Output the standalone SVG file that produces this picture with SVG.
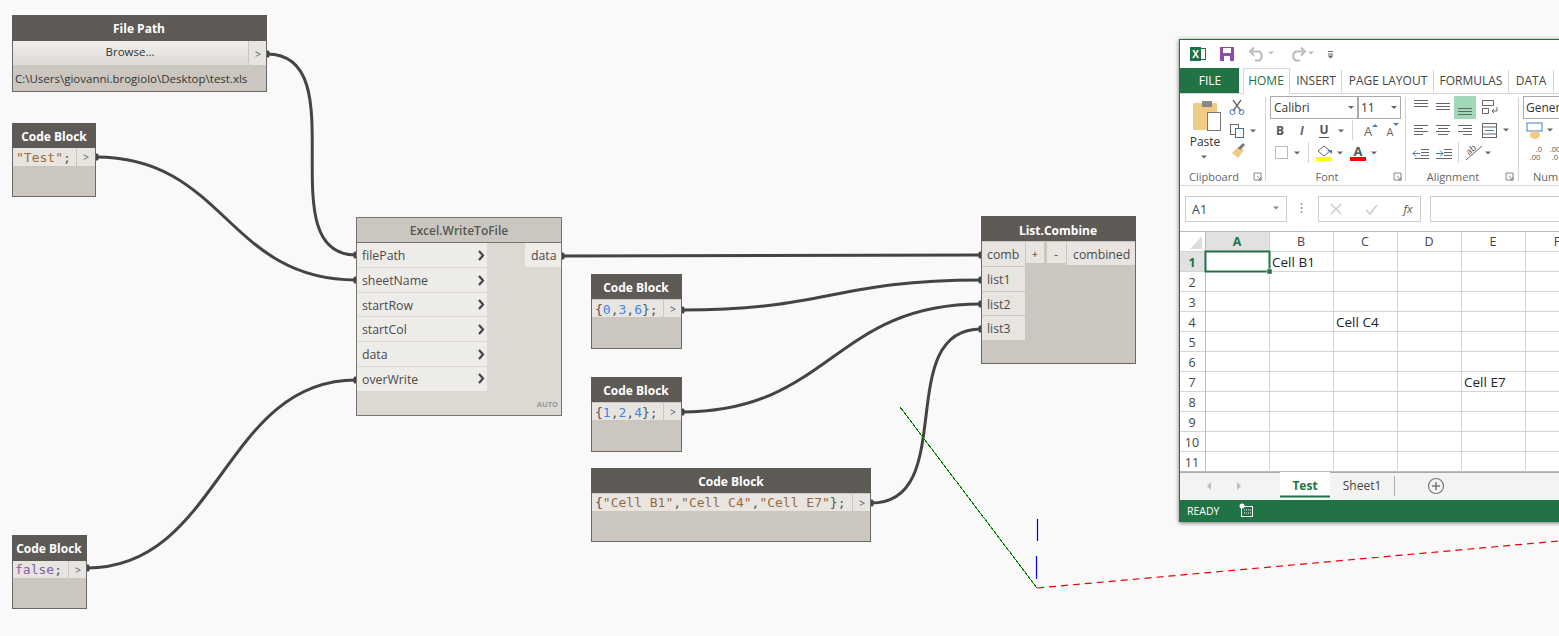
<svg xmlns="http://www.w3.org/2000/svg" width="1559" height="636" viewBox="0 0 1559 636">
<style>
text{font-family:"Open Sans","Noto Sans","DejaVu Sans",sans-serif}
.hdr{fill:#5e5b57}.nb{fill:#cbc7c0;stroke:#6b6963;stroke-width:1}
.nt{fill:#fff;font-size:12px;font-weight:700;text-anchor:middle}
.row{fill:#e8e5e1}.p{fill:#4a4a4a;font-size:12.300px}
.gt{fill:#4d5a66;font-size:10.500px;text-anchor:middle}
.code{font-family:"DejaVu Sans Mono","Liberation Mono",monospace;font-size:13px;fill:#555}
.str{fill:#9a6a3c}.num{fill:#3f86e8}.kw{fill:#8a5aa8}
.wire{fill:none;stroke:#444;stroke-width:3;marker-start:url(#pin);marker-end:url(#pin)}
.chev{fill:none;stroke:#444;stroke-width:2.200}
.x{font-size:12px;fill:#333}.cell{font-size:13.500px;fill:#222}.xh{font-size:12.500px;fill:#444;text-anchor:middle}
.tab{font-size:12px;fill:#444;text-anchor:middle}
.lbl{font-size:11px;fill:#666;text-anchor:middle}
.grid{stroke:#d4d4d4;stroke-width:1;fill:none}
.ic{stroke:#666;stroke-width:1;fill:none}
.sep{stroke:#d4d4d4;stroke-width:1}
.dd{fill:#666}
</style>
<defs>
<marker id="pin" markerUnits="userSpaceOnUse" markerWidth="8" markerHeight="10" refX="4" refY="5" orient="auto"><rect x="1.500" y="1.500" width="5" height="7" rx="1.500" fill="#444"/></marker>
<linearGradient id="btn" x1="0" y1="0" x2="0" y2="1"><stop offset="0" stop-color="#f0eeeb"/><stop offset="1" stop-color="#dedbd6"/></linearGradient>
<filter id="sh" x="-5%" y="-5%" width="110%" height="110%"><feDropShadow dx="-1" dy="1" stdDeviation="2" flood-color="#000" flood-opacity=".55"/></filter>
<path id="drop" d="M-3,-1.500h6l-3,3z"/>
<path id="launch" d="M-4,-4h7v7h-7zM-1,-1l4,4M0,3h3v-3" fill="none" stroke="#888"/>
</defs>
<rect width="1559" height="636" fill="#f9f9f9"/>

<g id="connectors">
<path class="wire" d="M267,54C358,54 267,255 356,255"/>
<path class="wire" d="M96,157C225,157 227,280 356,280"/>
<path class="wire" d="M87,568C220,568 223,380 356,380"/>
<path class="wire" d="M562,256C700,256 840,255 981,255"/>
<path class="wire" d="M682,310C830,310 833,280 981,280"/>
<path class="wire" d="M682,412C830,412 833,304 981,304"/>
<path class="wire" d="M871,503C960,503 892,329 981,329"/>
</g>

<g id="filepath">
<rect class="nb" x="12.500" y="15.500" width="254" height="76"/>
<rect class="hdr" x="12" y="15" width="255" height="26"/>
<text class="nt" x="139" y="33">File Path</text>
<rect x="13" y="41" width="235" height="24" fill="url(#btn)"/>
<text x="130" y="56" font-size="11.500px" fill="#333" text-anchor="middle">Browse...</text>
<rect class="row" x="249" y="41" width="17" height="24"/>
<text class="gt" x="258" y="58">&gt;</text>
<text x="15" y="83" font-size="11.500px" fill="#333">C:\Users\giovanni.brogiolo\Desktop\test.xls</text>
</g>

<g id="code-test">
<rect class="nb" x="12.500" y="123.500" width="83" height="73"/>
<rect class="hdr" x="12" y="123" width="84" height="25"/>
<text class="nt" x="54" y="141">Code Block</text>
<rect class="row" x="13" y="148" width="63" height="18"/><rect class="row" x="77" y="148" width="18" height="18"/>
<text class="code" x="16" y="162"><tspan class="str">"Test"</tspan>;</text>
<text class="gt" x="86" y="161">&gt;</text>
</g>

<g id="code-false">
<rect class="nb" x="12.500" y="535.500" width="74" height="73"/>
<rect class="hdr" x="12" y="535" width="75" height="26"/>
<text class="nt" x="49" y="553">Code Block</text>
<rect class="row" x="13" y="561" width="55" height="17"/><rect class="row" x="69" y="561" width="17" height="17"/>
<text class="code" x="15" y="574"><tspan class="kw">false</tspan>;</text>
<text class="gt" x="78" y="574">&gt;</text>
</g>

<g id="excel-write">
<rect x="356.500" y="217.500" width="205" height="198" fill="#dcd9d3" stroke="#77746e"/>
<rect x="357" y="218" width="204" height="24" fill="#cbc7c0"/>
<path d="M357,242.500H561" stroke="#77746e"/>
<text x="459" y="235" font-size="12px" font-weight="600" fill="#555" text-anchor="middle">Excel.WriteToFile</text>
<g fill="#eeece8"><rect x="357" y="243" width="130" height="24"/><rect x="357" y="268" width="130" height="24"/><rect x="357" y="293" width="130" height="23"/><rect x="357" y="317" width="130" height="24"/><rect x="357" y="342" width="130" height="24"/><rect x="357" y="367" width="130" height="24"/><rect x="525" y="243" width="36" height="24"/></g>
<text class="p" x="362" y="260">filePath</text><text class="p" x="362" y="285">sheetName</text><text class="p" x="362" y="310">startRow</text><text class="p" x="362" y="334">startCol</text><text class="p" x="362" y="359">data</text><text class="p" x="362" y="384">overWrite</text>
<text class="p" x="531" y="260">data</text>
<g class="chev"><path d="M479,251l4,4.500l-4,4.500"/><path d="M479,276l4,4.500l-4,4.500"/><path d="M479,300l4,4.500l-4,4.500"/><path d="M479,325l4,4.500l-4,4.500"/><path d="M479,350l4,4.500l-4,4.500"/><path d="M479,374l4,4.500l-4,4.500"/></g>
<text x="558" y="407" font-size="7.500px" font-weight="700" fill="#999" text-anchor="end">AUTO</text>
</g>

<g id="list-combine">
<rect class="nb" x="981.500" y="216.500" width="154" height="147"/>
<rect class="hdr" x="981" y="216" width="155" height="25"/>
<text class="nt" x="1058" y="235">List.Combine</text>
<g class="row"><rect x="982" y="242" width="43" height="24"/><rect x="982" y="267" width="43" height="24"/><rect x="982" y="292" width="43" height="23"/><rect x="982" y="316" width="43" height="24"/><rect x="1026" y="242" width="18" height="21"/><rect x="1047" y="242" width="19" height="21"/><rect x="1067" y="242" width="68" height="23"/></g>
<text class="p" x="987" y="259">comb</text><text class="p" x="987" y="284">list1</text><text class="p" x="987" y="309">list2</text><text class="p" x="987" y="333">list3</text>
<text class="p" x="1073" y="259">combined</text>
<text x="1035" y="258" font-size="11px" fill="#333" text-anchor="middle">+</text><text x="1056" y="258" font-size="11px" fill="#333" text-anchor="middle">-</text>
</g>

<g id="code-036">
<rect class="nb" x="591.500" y="274.500" width="90" height="74"/>
<rect class="hdr" x="591" y="274" width="91" height="25"/>
<text class="nt" x="636" y="292">Code Block</text>
<rect class="row" x="592" y="300" width="71" height="17"/><rect class="row" x="664" y="300" width="17" height="17"/>
<text class="code" x="595" y="314">{<tspan class="num">0</tspan>,<tspan class="num">3</tspan>,<tspan class="num">6</tspan>};</text>
<text class="gt" x="673" y="313">&gt;</text>
</g>

<g id="code-124">
<rect class="nb" x="591.500" y="377.500" width="90" height="74"/>
<rect class="hdr" x="591" y="377" width="91" height="25"/>
<text class="nt" x="636" y="395">Code Block</text>
<rect class="row" x="592" y="403" width="71" height="17"/><rect class="row" x="664" y="403" width="17" height="17"/>
<text class="code" x="595" y="417">{<tspan class="num">1</tspan>,<tspan class="num">2</tspan>,<tspan class="num">4</tspan>};</text>
<text class="gt" x="673" y="416">&gt;</text>
</g>

<g id="code-cells">
<rect class="nb" x="591.500" y="468.500" width="279" height="73"/>
<rect class="hdr" x="591" y="468" width="280" height="25"/>
<text class="nt" x="731" y="486">Code Block</text>
<rect class="row" x="592" y="494" width="260" height="17"/><rect class="row" x="853" y="494" width="17" height="17"/>
<text class="code" x="595" y="507">{<tspan class="str">"Cell B1"</tspan>,<tspan class="str">"Cell C4"</tspan>,<tspan class="str">"Cell E7"</tspan>};</text>
<text class="gt" x="862" y="507">&gt;</text>
</g>

<g id="axes">
<path d="M900,407L1037,588" stroke="#008000" stroke-width="1" fill="none" shape-rendering="crispEdges"/>
<path d="M1037.500,519V541M1036.500,556V579" stroke="#0000e0" stroke-width="1.200" fill="none"/>
<path d="M1037,588L1559,541" stroke="#e80000" stroke-width="1.200" fill="none" stroke-dasharray="7 5"/>
</g>

<g id="excel-window">
<rect x="1180" y="39" width="385" height="483" fill="#fff" filter="url(#sh)"/>
<path d="M1179,39.500H1559" stroke="#217346"/><path d="M1179.500,39V522" stroke="#217346"/>
<!-- quick access -->
<rect x="1190" y="47" width="11" height="14" fill="#1e7145"/><rect x="1199.500" y="48.500" width="6" height="11" fill="none" stroke="#1e7145"/>
<text x="1195.500" y="58" font-size="10px" font-weight="700" fill="#fff" text-anchor="middle">X</text>
<rect x="1220" y="47" width="14" height="14" fill="#8a4ea8"/><rect x="1223" y="48" width="8" height="5" fill="#fff"/><rect x="1224" y="56" width="6" height="5" fill="#fff"/>
<path d="M1252,51.500H1259a5,5 0 0 1 0,9H1255M1254,47.500l-4,4l4,4" fill="none" stroke="#bbb" stroke-width="2"/>
<use href="#drop" x="1271" y="53" fill="#bbb"/>
<path d="M1303,51.500H1296a5,5 0 0 0 0,9H1300M1301,47.500l4,4l-4,4" fill="none" stroke="#bbb" stroke-width="2"/>
<use href="#drop" x="1311" y="53" fill="#bbb"/>
<path d="M1328,51.500h5M1328,54h5" stroke="#666"/><use href="#drop" x="1330.500" y="57" class="dd"/>
<!-- tabs -->
<rect x="1180" y="68" width="59" height="25" fill="#217346"/>
<text x="1210" y="85" font-size="12px" fill="#fff" text-anchor="middle">FILE</text>
<path d="M1180,93.500H1243.500V68.500H1289.500V93.500H1559" fill="none" stroke="#d4d4d4"/>
<text class="tab" x="1266" y="85" style="fill:#217346">HOME</text>
<text class="tab" x="1316" y="85">INSERT</text><text class="tab" x="1388" y="85">PAGE LAYOUT</text><text class="tab" x="1471" y="85">FORMULAS</text><text class="tab" x="1531" y="85">DATA</text>
<path class="sep" d="M1341.500,70V92M1433.500,70V92M1508.500,70V92M1553.500,70V92"/>
<!-- ribbon separators -->
<path class="sep" d="M1265.500,97V181M1405.500,97V181M1518.500,97V181M1308.500,142V163M1458.500,142V163M1352.500,120V140"/>
<path d="M1180,185.500H1559" stroke="#d4d4d4"/>
<!-- clipboard -->
<rect x="1193" y="103" width="24" height="27" rx="1" fill="#f0cb83"/><rect x="1202" y="101" width="10" height="6" fill="#888"/>
<rect x="1207.500" y="112.500" width="13" height="18" fill="#fff" stroke="#777"/>
<text class="x" x="1205" y="146" text-anchor="middle">Paste</text><use href="#drop" x="1204" y="157" class="dd"/>
<path d="M1233,100L1241,111M1241,100L1233,111" stroke="#666" stroke-width="1.300"/><circle cx="1232.500" cy="112" r="2.500" fill="none" stroke="#3f7fbf"/><circle cx="1241.500" cy="112" r="2.500" fill="none" stroke="#3f7fbf"/>
<rect x="1230.500" y="124.500" width="8" height="10" fill="#fff" stroke="#666"/><rect x="1235.500" y="128.500" width="8" height="9" fill="#fff" stroke="#3f6f9f"/>
<use href="#drop" x="1253" y="131" class="dd"/>
<path d="M1232,153L1238,158L1244,150L1238,147Z" fill="#f0c88a"/><path d="M1239,149l5,-5" stroke="#777" stroke-width="3"/>
<text class="lbl" x="1214" y="181">Clipboard</text><use href="#launch" x="1258" y="177"/>
<!-- font -->
<rect x="1270.500" y="96.500" width="87" height="22" fill="#fff" stroke="#aaa"/><text class="x" x="1274" y="112">Calibri</text><use href="#drop" x="1351" y="107.500" class="dd"/>
<rect x="1358.500" y="96.500" width="42" height="22" fill="#fff" stroke="#aaa"/><text class="x" x="1361" y="112">11</text><use href="#drop" x="1394" y="107.500" class="dd"/>
<text x="1280" y="135" font-size="12px" font-weight="700" fill="#555" text-anchor="middle">B</text>
<text x="1302" y="135" font-size="12px" font-weight="700" font-style="italic" fill="#666" text-anchor="middle">I</text>
<text x="1324" y="134" font-size="12px" font-weight="700" fill="#555" text-anchor="middle">U</text><path d="M1319,137.500H1329" stroke="#555"/>
<use href="#drop" x="1341" y="131" class="dd"/>
<text x="1368" y="136" font-size="13px" fill="#666" text-anchor="middle">A</text><path d="M1372,127l3,-3l3,3z" fill="#3f7fbf"/>
<text x="1390" y="136" font-size="11px" fill="#666" text-anchor="middle">A</text><path d="M1393,123h6l-3,3z" fill="#3f7fbf"/>
<rect x="1275.500" y="146.500" width="12" height="12" fill="none" stroke="#777" stroke-dasharray="1 1"/><use href="#drop" x="1297" y="153" class="dd"/>
<path d="M1318,151l6,-5l6,5l-6,5z" fill="#fff" stroke="#666"/><path d="M1327,150h5v4z" fill="#3f7fbf"/><rect x="1316" y="157" width="16" height="4" fill="#ff0"/><use href="#drop" x="1340" y="153" class="dd"/>
<text x="1358" y="156" font-size="13px" fill="#555" text-anchor="middle" font-weight="700">A</text><rect x="1350" y="157" width="16" height="4" fill="#f00"/><use href="#drop" x="1374" y="153" class="dd"/>
<text class="lbl" x="1327" y="181">Font</text><use href="#launch" x="1398" y="177"/>
<!-- alignment -->
<rect x="1454" y="96" width="22" height="23" fill="#a0d8b8"/>
<path class="ic" d="M1414,100.500h14M1414,103.500h14M1414,106.500h14M1436,103.500h14M1436,106.500h14M1436,109.500h14M1458,108.500h14M1458,111.500h14M1458,114.500h14M1414,125.500h14M1414,128.500h9M1414,131.500h14M1414,134.500h9M1436,125.500h14M1438,128.500h10M1436,131.500h14M1438,134.500h10M1458,125.500h14M1463,128.500h9M1458,131.500h14M1463,134.500h9"/>
<path class="ic" d="M1482.500,100.500h11v5h-11zM1482.500,108.500h6v5h-6zM1492,111h5v-4M1492,111l2,-2M1492,111l2,2"/>
<rect x="1482.500" y="123.500" width="14" height="14" fill="none" stroke="#666"/><path d="M1485,130.500h9" stroke="#3f7fbf"/><path class="ic" d="M1482.500,127h14M1482.500,134h14"/>
<use href="#drop" x="1506" y="130" class="dd"/>
<path d="M1413,153.500h7M1413,153.500l3,-3M1413,153.500l3,3" stroke="#3f7fbf" fill="none"/><path class="ic" d="M1421,149.500h8M1421,152.500h8M1421,155.500h8M1415,158.500h14"/>
<path d="M1443,153.500h-7M1443,153.500l-3,-3M1443,153.500l-3,3" stroke="#3f7fbf" fill="none"/><path class="ic" d="M1444,149.500h8M1444,152.500h8M1444,155.500h8M1436,158.500h16"/>
<path d="M1466,160L1482,146" stroke="#666"/><text x="1473" y="152" font-size="9px" fill="#555" text-anchor="middle" transform="rotate(-40 1473 152)">ab</text>
<use href="#drop" x="1488" y="153" class="dd"/>
<text class="lbl" x="1453" y="181">Alignment</text><use href="#launch" x="1510" y="177"/>
<!-- number -->
<rect x="1523.500" y="96.500" width="40" height="22" fill="#fff" stroke="#aaa"/><text class="x" x="1526" y="112">Genera</text>
<rect x="1527" y="123" width="15" height="8" fill="none" stroke="#3f7fbf"/><ellipse cx="1535" cy="135" rx="5" ry="4" fill="#f0cb83"/><use href="#drop" x="1550" y="130" class="dd"/>
<text x="1539" y="152" font-size="7.500px" fill="#555" text-anchor="middle">.0</text><text x="1535" y="160" font-size="7.500px" fill="#555" text-anchor="middle">.00</text>
<text x="1555" y="152" font-size="7.500px" fill="#555" text-anchor="middle">.00</text><text x="1555" y="160" font-size="7.500px" fill="#555" text-anchor="middle">.0</text>
<text class="lbl" x="1533" y="181" style="text-anchor:start">Numb</text>
<!-- formula bar -->
<rect x="1185.500" y="196.500" width="101" height="25" fill="#fff" stroke="#ccc"/><text x="1192" y="214" font-size="12.500px" fill="#444">A1</text><use href="#drop" x="1276" y="208" fill="#888"/>
<path d="M1301.500,203v2M1301.500,207v2M1301.500,211v2" stroke="#999" stroke-width="1.500"/>
<rect x="1318.500" y="196.500" width="102" height="25" fill="#fff" stroke="#ccc"/>
<path d="M1331,204l10,10M1341,204l-10,10" stroke="#ccc" stroke-width="1.500"/>
<path d="M1366,210l4,4l7,-9" fill="none" stroke="#ccc" stroke-width="1.500"/>
<text x="1408" y="213" font-size="11.500px" font-style="italic" fill="#555" text-anchor="middle">fx</text>
<rect x="1430.500" y="196.500" width="140" height="25" fill="#fff" stroke="#ccc"/>
<!-- grid -->
<path d="M1190,249L1202,236V249Z" fill="#dcdcdc"/>
<rect x="1205" y="232" width="64" height="20" fill="#e1e1e1"/><rect x="1180" y="252" width="25" height="20" fill="#e1e1e1"/>
<path class="grid" d="M1180,251.500H1559M1180,271.500H1559M1180,291.500H1559M1180,311.500H1559M1180,331.500H1559M1180,351.500H1559M1180,371.500H1559M1180,391.500H1559M1180,411.500H1559M1180,431.500H1559M1180,451.500H1559"/>
<path d="M1205.500,232V472M1180,471.500H1559M1180,231.500H1559" stroke="#bbb" fill="none"/>
<path class="grid" d="M1269.500,232V472M1333.500,232V472M1397.500,232V472M1461.500,232V472M1525.500,232V472"/>
<text class="xh" x="1237" y="246" style="fill:#217346;font-weight:700">A</text><text class="xh" x="1301" y="246">B</text><text class="xh" x="1365" y="246">C</text><text class="xh" x="1429" y="246">D</text><text class="xh" x="1493" y="246">E</text><text class="xh" x="1557" y="246">F</text>
<text class="xh" x="1192" y="267" style="fill:#217346;font-weight:700">1</text>
<text class="xh" x="1192" y="287">2</text><text class="xh" x="1192" y="307">3</text><text class="xh" x="1192" y="327">4</text><text class="xh" x="1192" y="347">5</text><text class="xh" x="1192" y="367">6</text><text class="xh" x="1192" y="387">7</text><text class="xh" x="1192" y="407">8</text><text class="xh" x="1192" y="427">9</text><text class="xh" x="1192" y="447">10</text><text class="xh" x="1192" y="467">11</text>
<rect x="1205.500" y="251.500" width="64" height="20" fill="none" stroke="#217346" stroke-width="2"/><rect x="1267" y="269" width="5" height="5" fill="#217346" stroke="#fff" stroke-width=".5"/>
<text class="cell" x="1272" y="267">Cell B1</text><text class="cell" x="1336" y="327">Cell C4</text><text class="cell" x="1464" y="387">Cell E7</text>
<!-- sheet tabs -->
<rect x="1180" y="472" width="385" height="28" fill="#f3f3f3"/>
<path d="M1180,472.500H1559" stroke="#ababab"/>
<rect x="1280" y="472" width="50" height="25" fill="#fff"/><rect x="1280" y="495.500" width="50" height="2" fill="#217346"/>
<path d="M1211,482v8l-4,-4zM1237,482v8l4,-4z" fill="#bbb"/>
<text x="1305" y="490" font-size="12px" font-weight="700" fill="#217346" text-anchor="middle">Test</text>
<text class="tab" x="1362" y="490">Sheet1</text><path d="M1394.500,476V496" stroke="#aaa"/>
<circle cx="1436" cy="486" r="7.500" fill="none" stroke="#777" stroke-width="1.200"/><path d="M1432,486h8M1436,482v8" stroke="#777" stroke-width="1.500"/>
<!-- status bar -->
<rect x="1180" y="500" width="385" height="22" fill="#217346"/>
<text x="1187" y="515" font-size="10.500px" fill="#fff">READY</text>
<rect x="1241.500" y="506.500" width="11" height="10" fill="none" stroke="#fff"/><circle cx="1242" cy="506" r="2.500" fill="#fff"/><path d="M1244,510h7M1244,513h7" stroke="#fff" stroke-dasharray="1 1"/>
</g>
</svg>
